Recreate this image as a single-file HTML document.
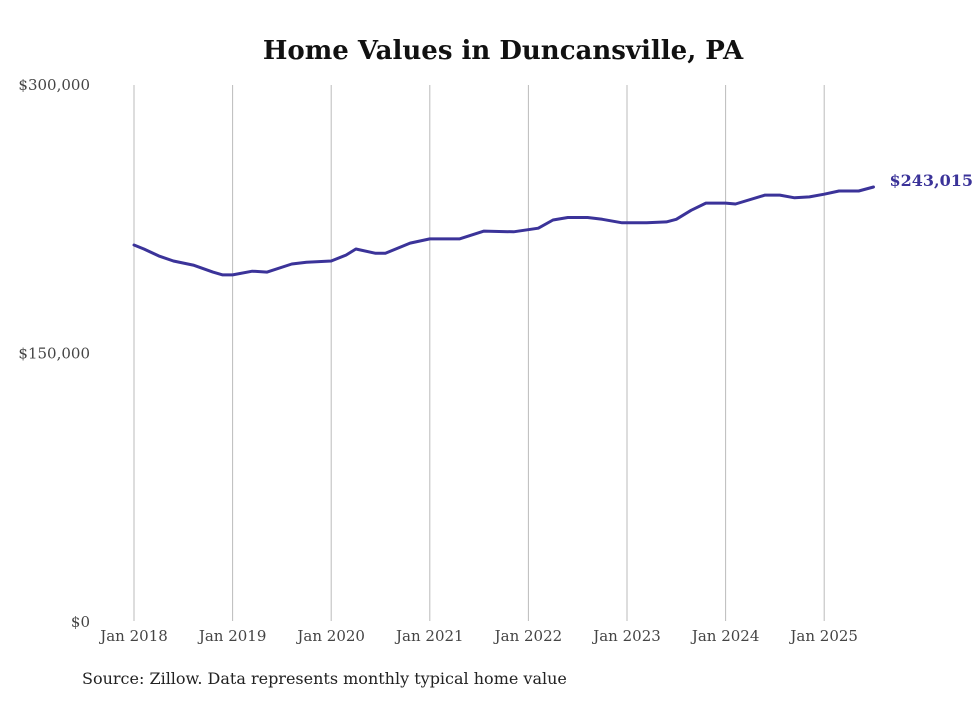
<!DOCTYPE html>
<html><head><meta charset="utf-8"><style>
body{margin:0;background:#fff;}
svg text{font-family:"DejaVu Serif","Liberation Serif",serif;}
</style></head><body>
<svg width="980" height="699" xmlns="http://www.w3.org/2000/svg">
<text x="503" y="59" text-anchor="middle" font-size="26" font-weight="bold" fill="#111">Home Values in Duncansville, PA</text>
<g id="grid"></g>
<g id="yaxis"></g>
<g id="xaxis"></g>
<path id="line" fill="none" stroke="#3b3399" stroke-width="3" stroke-linejoin="round" stroke-linecap="round"/>
<text id="endlabel" font-size="16" font-weight="bold" fill="#3b3399"></text>
<text x="82" y="684" font-size="16" fill="#222">Source: Zillow. Data represents monthly typical home value</text>
</svg>
<script>
const years=[2018,2019,2020,2021,2022,2023,2024,2025];
const yTicks=[0,150000,300000];
const yTickLabels=["$0","$150,000","$300,000"];
const dates=[2018.0,2018.1,2018.25,2018.4,2018.6,2018.8,2018.9,2019.0,2019.2,2019.35,2019.6,2019.75,2020.0,2020.15,2020.25,2020.45,2020.55,2020.8,2021.0,2021.3,2021.55,2021.85,2022.1,2022.25,2022.4,2022.6,2022.75,2022.95,2023.2,2023.4,2023.5,2023.65,2023.8,2024.0,2024.1,2024.4,2024.55,2024.7,2024.85,2025.0,2025.15,2025.35,2025.5];
const values=[210600,208400,204500,201700,199400,195500,193900,193900,196000,195500,200000,201000,201700,205000,208400,206000,206000,211700,214000,214000,218400,218000,220000,224600,226000,226000,225000,223000,223000,223500,225000,230000,234000,234000,233500,238500,238500,237000,237500,239000,240800,240800,243015];
const NS="http://www.w3.org/2000/svg";
const x=d=>134+(d-2018)*98.6;
const y=v=>622-(v/300000)*537;
const grid=document.getElementById('grid'),xa=document.getElementById('xaxis'),ya=document.getElementById('yaxis');
years.forEach(yr=>{
 const l=document.createElementNS(NS,'line');
 
 
 l.setAttribute('x1',x(yr));l.setAttribute('x2',x(yr));l.setAttribute('y1',85);l.setAttribute('y2',621);
 l.setAttribute('stroke','#bbb');l.setAttribute('stroke-width','1');grid.appendChild(l);
 const t=document.createElementNS(NS,'text');
 
 
 t.setAttribute('x',x(yr));t.setAttribute('y',641);t.setAttribute('text-anchor','middle');
 t.setAttribute('font-size','15');t.setAttribute('fill','#444');t.textContent='Jan '+yr;xa.appendChild(t);
});
yTicks.forEach((v,i)=>{
 const t=document.createElementNS(NS,'text');
 
 
 t.setAttribute('x',90);t.setAttribute('y',y(v)+5);t.setAttribute('text-anchor','end');
 t.setAttribute('font-size','15');t.setAttribute('fill','#444');t.textContent=yTickLabels[i];ya.appendChild(t);
});
document.getElementById('line').setAttribute('d',dates.map((d,i)=>(i?'L':'M')+x(d).toFixed(1)+' '+y(values[i]).toFixed(1)).join(' '));
const n=values.length-1,el=document.getElementById('endlabel');
el.setAttribute('x',x(dates[n])+16);el.setAttribute('y',y(values[n])-1);
el.textContent='$'+values[n].toLocaleString('en-US');
</script>
</body></html>
